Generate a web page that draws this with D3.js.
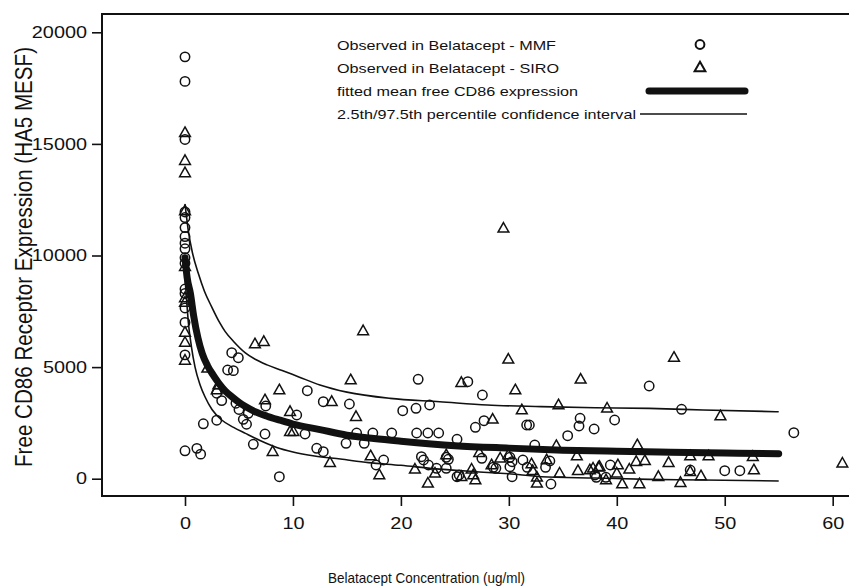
<!DOCTYPE html>
<html>
<head>
<meta charset="utf-8">
<script src="https://cdn.jsdelivr.net/npm/d3@7"></script>
<style>
  html, body { margin: 0; padding: 0; background: #fff; }
  svg { display: block; }
  text { font-family: "Liberation Sans", Arial, Helvetica, sans-serif; fill: #111; }
</style>
</head>
<body>
<svg id="chart" width="849" height="587"></svg>
<script>
// ---------------- DATA ----------------
// Observed in Belatacept - MMF  [concentration ug/ml, free CD86 (HA5 MESF)]
const mmfPoints = [
  [0,18900],[0,17800],[0,15200],[0,11950],[0,11700],[0,11250],[0,10850],[0,10550],[0,10300],
  [0,9900],[0,9650],[0,8500],[0,8300],[0,7650],[0,7000],[0,5550],[0,1250],
  [1.1,1360],[1.45,1100],[1.7,2460],[2.94,2620],[2.94,3830],[3.4,3500],[3.95,4870],[4.48,4840],
  [4.33,5645],[4.94,5420],[4.72,3380],[5.0,3100],[5.4,2660],[5.7,2440],[5.86,2930],[6.33,1541],
  [7.41,2003],[7.48,3257],[8.74,90],[10.35,2854],[11.12,2003],[11.33,3943],[12.2,1362],[12.81,1210],
  [12.81,3450],[14.92,1586],[15.23,3347],[15.9,2048],[16.6,1586],[17.4,2048],[18.4,838],[17.7,614],
  [19.15,2048],[20.17,3047],[21.4,3154],[22.66,3302],[21.46,2048],[22.5,2048],[23.5,2048],[21.6,4453],
  [21.9,986],[22.1,838],[22.55,614],[23.3,466],[24.2,959],[24.4,869],[24.2,466],[25.2,90],[25.4,166],
  [25.2,1765],[26.2,4346],[26.9,2303],[27.7,2598],[27.55,3750],[27.5,914],[28.56,511],[28.8,466],
  [30.1,959],[30.3,762],[30.1,538],[30.3,90],[31.65,2406],[31.9,2406],[31.3,838],[31.7,511],[32.4,1510],
  [33.8,793],[33.4,511],[33.9,-237],[35.45,1927],[36.6,2706],[36.5,2361],[37.9,2227],[39.8,2630],
  [37.98,166],[38.1,63],[38.99,63],[39.4,614],[43,4153],[46,3109],[46.8,390],[50.0,358],[51.4,358],[56.4,2061]
];
// Observed in Belatacept - SIRO
const siroPoints = [
  [0,15500],[0,14250],[0,13700],[0,12000],[0,9500],[0,8100],[0,7900],[0,6550],[0,6100],[0,5300],
  [2.07,4946],[3.09,4200],[2.94,3974],[6.48,6035],[7.3,6138],[7.41,3526],[8.74,3974],[8.12,1210],
  [9.73,3002],[9.73,2106],[10.04,2106],[13.59,3450],[13.43,717],[15.35,4422],[16.5,6620],[15.84,2780],
  [17.2,1017],[18.0,166],[21.3,421],[22.5,-206],[23.16,242],[24.2,1062],[25.6,90],[25.6,4301],
  [26.55,421],[26.7,166],[26.9,-58],[27.26,1165],[28.4,614],[28.5,2661],[29.2,914],[29.5,11218],
  [29.95,5349],[29.95,1062],[30.6,3974],[31.2,3078],[32.1,659],[32.2,358],[32.6,63],[32.6,-206],
  [33.5,838],[34.4,1478],[34.6,3302],[34.7,242],[36.3,1017],[36.4,358],[36.65,4453],[37.5,390],
  [37.8,466],[38.3,511],[38.4,538],[39.0,-58],[39.1,3154],[40.1,614],[40.0,242],[40.5,-237],[41.16,421],
  [41.8,762],[42.6,806],[41.9,1510],[42.1,-237],[43.85,90],[44.8,717],[45.3,5430],[45.9,-179],
  [46.8,1017],[46.8,314],[47.8,121],[48.5,1017],[49.6,2809],[52.7,390],[52.6,986],[60.9,690]
];
// fitted mean free CD86 expression
const meanCurve = [
  [0,9900],[0.2,9000],[0.5,8300],[0.8,7300],[1.2,6300],[1.6,5600],[2.1,5050],[2.6,4650],[3.1,4300],
  [3.7,3950],[4.4,3650],[5.0,3420],[5.6,3230],[6.5,3000],[7.6,2800],[8.8,2620],[10,2450],[12.5,2200],
  [15,1950],[17.5,1800],[20,1680],[25,1480],[30,1370],[35,1280],[40,1230],[45,1190],[50,1150],[55,1120]
];
// 2.5th / 97.5th percentile confidence interval
const upperCurve = [
  [0,12300],[0.1,11900],[0.31,11100],[0.7,10100],[1.23,9200],[1.8,8400],[2.47,7700],[3.2,7000],
  [3.71,6600],[4.5,6150],[5.56,5650],[6.5,5350],[7.6,5100],[9,4850],[10.6,4550],[12.5,4200],
  [15,3880],[19,3600],[23.6,3450],[28,3300],[33,3230],[38,3180],[43,3150],[48,3080],[55,3000]
];
const lowerCurve = [
  [0,9000],[0.15,8000],[0.31,7000],[0.6,5900],[0.93,5000],[1.4,4200],[1.85,3670],[2.5,3100],
  [3.4,2630],[4.5,2300],[5.6,2030],[7,1700],[8.5,1400],[10,1200],[12,1020],[14.4,880],[17,720],
  [20,600],[23,450],[26.7,320],[30,220],[33,90],[38,30],[43,-30],[48,-60],[55,-100]
];
const xTicks = [0, 10, 20, 30, 40, 50, 60];
const yTicks = [0, 5000, 10000, 15000, 20000];
const legendLabels = [
  "Observed in Belatacept - MMF",
  "Observed in Belatacept - SIRO",
  "fitted mean free CD86 expression",
  "2.5th/97.5th percentile confidence interval"
];
const xTitle = "Belatacept Concentration (ug/ml)";
const yTitle = "Free CD86 Receptor Expression (HA5 MESF)";

// ---------------- LAYOUT ----------------
const svg = d3.select("#chart");
const L = 102, T = 14, B = 496, R = 860;
const x = d3.scaleLinear().domain([-7.689, 62.53]).range([L, R]);
const y = d3.scaleLinear().domain([-775, 20820]).range([B, T]);
const ink = "#111";
const STRETCH = 1.24;

function stretch(sel, k) {
  sel.each(function () {
    const w = this.getComputedTextLength();
    d3.select(this).attr("textLength", w * k).attr("lengthAdjust", "spacingAndGlyphs");
  });
}

// Curves
const line = d3.line().x(d => x(d[0])).y(d => y(d[1])).curve(d3.curveMonotoneX);
svg.append("path").datum(upperCurve).attr("d", line)
  .attr("fill", "none").attr("stroke", ink).attr("stroke-width", 1.6);
svg.append("path").datum(lowerCurve).attr("d", line)
  .attr("fill", "none").attr("stroke", ink).attr("stroke-width", 1.6);
svg.append("path").datum(meanCurve).attr("d", line)
  .attr("fill", "none").attr("stroke", ink).attr("stroke-width", 7)
  .attr("stroke-linecap", "round").attr("stroke-linejoin", "round");

// Points
const triPath = "M0,-5.8L5.4,3.8L-5.4,3.8Z";
svg.append("g").selectAll("circle").data(mmfPoints).join("circle")
  .attr("cx", d => x(d[0])).attr("cy", d => y(d[1])).attr("r", 4.7)
  .attr("fill", "none").attr("stroke", ink).attr("stroke-width", 1.5);
svg.append("g").selectAll("path").data(siroPoints).join("path")
  .attr("transform", d => `translate(${x(d[0])},${y(d[1])})`)
  .attr("d", triPath).attr("fill", "none").attr("stroke", ink).attr("stroke-width", 1.5)
  .attr("stroke-linejoin", "miter");

// Frame
svg.append("path").attr("d", `M${R},${T}H${L}V${B}H${R}`)
  .attr("fill", "none").attr("stroke", ink).attr("stroke-width", 2);

// Axes
const yAxis = d3.axisLeft(y).tickValues(yTicks).tickSize(10).tickPadding(5).tickFormat(d3.format("d"));
const gy = svg.append("g").attr("transform", `translate(${L},0)`).call(yAxis);
gy.select(".domain").remove();
gy.selectAll(".tick line").attr("stroke", ink).attr("stroke-width", 1.6);
gy.selectAll(".tick text").attr("font-size", 16).attr("fill", ink)
  .style("font-family", "'Liberation Sans', Arial, sans-serif");
stretch(gy.selectAll(".tick text"), STRETCH);

const xAxis = d3.axisBottom(x).tickValues(xTicks).tickSize(10).tickPadding(12).tickFormat(d3.format("d"));
const gx = svg.append("g").attr("transform", `translate(0,${B})`).call(xAxis);
gx.select(".domain").remove();
gx.selectAll(".tick line").attr("stroke", ink).attr("stroke-width", 1.6);
gx.selectAll(".tick text").attr("font-size", 16).attr("fill", ink)
  .style("font-family", "'Liberation Sans', Arial, sans-serif");
stretch(gx.selectAll(".tick text"), STRETCH);

// Titles
svg.append("text").attr("x", 426.5).attr("y", 583).attr("text-anchor", "middle")
  .attr("font-size", 14.5).attr("textLength", 197).attr("lengthAdjust", "spacingAndGlyphs")
  .text(xTitle);
svg.append("text")
  .attr("transform", "translate(31.5,257) scale(1.22,1) rotate(-90)")
  .attr("text-anchor", "middle").attr("font-size", 20)
  .attr("textLength", 420).attr("lengthAdjust", "spacingAndGlyphs").text(yTitle);

// Legend
const legY = [44.5, 67.5, 91, 114];
const legLen = [219, 222, 241, 299];
const lg = svg.append("g");
legendLabels.forEach((t, i) => {
  lg.append("text").attr("x", 337).attr("y", legY[i] + 5)
    .attr("font-size", 13.5).attr("textLength", legLen[i])
    .attr("lengthAdjust", "spacingAndGlyphs").text(t);
});
lg.append("circle").attr("cx", 700).attr("cy", legY[0]).attr("r", 4.4)
  .attr("fill", "none").attr("stroke", ink).attr("stroke-width", 2);
lg.append("path").attr("transform", `translate(700,${legY[1]})`).attr("d", triPath)
  .attr("fill", "none").attr("stroke", ink).attr("stroke-width", 2);
lg.append("line").attr("x1", 649).attr("x2", 745).attr("y1", legY[2]).attr("y2", legY[2])
  .attr("stroke", ink).attr("stroke-width", 7).attr("stroke-linecap", "round");
lg.append("line").attr("x1", 640).attr("x2", 747).attr("y1", legY[3]).attr("y2", legY[3])
  .attr("stroke", ink).attr("stroke-width", 1.6);
</script>
</body>
</html>
